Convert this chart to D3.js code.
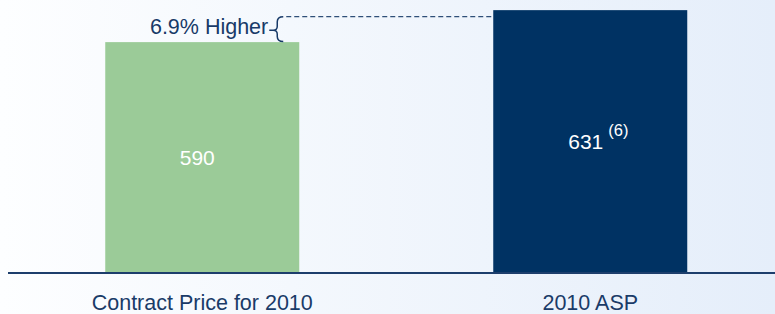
<!DOCTYPE html>
<html>
<head>
<meta charset="utf-8">
<script src="https://cdn.jsdelivr.net/npm/d3@7"></script>
<style>
  html, body { margin: 0; padding: 0; background: #ffffff; }
  svg { display: block; }
  text { font-family: "Liberation Sans", Arial, sans-serif; }
</style>
</head>
<body>
<svg id="chart" width="775" height="314"></svg>
<script>
// ---- data ----
const categories = ["Contract Price for 2010", "2010 ASP"];
const values = [590, 631];
const footnotes = ["", "(6)"];
const annotationText = "6.9% Higher";

// ---- styles ----
const barColors = ["#9bcb98", "#003263"];
const navy = "#183a68";

const W = 775, H = 314;
const svg = d3.select("#chart");

// background gradient
const defs = svg.append("defs");
const grad = defs.append("linearGradient").attr("id", "bg").attr("x1", "0").attr("x2", "1").attr("y1", "0").attr("y2", "0");
grad.append("stop").attr("offset", "0").attr("stop-color", "#fdfeff");
grad.append("stop").attr("offset", "1").attr("stop-color", "#e5eefa");
svg.append("rect").attr("width", W).attr("height", H).attr("fill", "url(#bg)");

const baseY = 273;
const x = d3.scaleBand().domain(categories).range([8.25, 784.25]).paddingInner(0.5).paddingOuter(0.25);
const y = d3.scaleLinear().domain([294, 644]).range([baseY, 0]);

// bars
svg.selectAll("rect.bar").data(values).join("rect")
  .attr("class", "bar")
  .attr("x", (d, i) => x(categories[i]))
  .attr("width", x.bandwidth())
  .attr("y", d => y(d))
  .attr("height", d => baseY - y(d))
  .attr("fill", (d, i) => barColors[i]);

// axis line
const axis = d3.axisBottom(x).tickSize(0).tickPadding(21);
const gAxis = svg.append("g").attr("transform", `translate(0,${baseY})`).call(axis);
gAxis.select(".domain").remove();
gAxis.append("line").attr("x1", 8).attr("x2", W).attr("y1", 0).attr("y2", 0)
  .attr("stroke", "#1d3e6c").attr("stroke-width", 2.2);
gAxis.selectAll(".tick text")
  .attr("font-size", "21.5px").attr("fill", "#1a3b68")
  .attr("font-family", "Liberation Sans, Arial, sans-serif")
  .attr("dy", "0.73em");

// value labels
values.forEach((v, i) => {
  const cx = x(categories[i]) + x.bandwidth() / 2;
  const mid = (y(v) + baseY) / 2;
  const t = svg.append("text")
    .attr("y", mid + 7)
    .attr("font-size", "21px")
    .attr("fill", "#ffffff");
  if (footnotes[i]) {
    t.attr("x", cx - 22).attr("text-anchor", "start");
    t.append("tspan").text(String(v));
    t.append("tspan").attr("dx", 5).attr("dy", -13).attr("font-size", "16.5px").text(footnotes[i]);
  } else {
    t.attr("x", cx - 5).attr("text-anchor", "middle").text(String(v));
  }
});

// annotation: brace + dashed line
const barRight = x(categories[0]) + x.bandwidth();
const yTop = y(values[1]) + 6.5;
const yBot = y(values[0]) - 0.5;
const yMid = (yTop + yBot) / 2 + 1;
const xs = barRight - 22, xr = barRight - 16, xl = barRight - 30;
const brace = d3.path();
brace.moveTo(xr, yTop);
brace.quadraticCurveTo(xs, yTop, xs, yTop + 5);
brace.lineTo(xs, yMid - 4);
brace.quadraticCurveTo(xs, yMid, xs - 4, yMid);
brace.lineTo(xl, yMid);
brace.moveTo(xs - 4, yMid);
brace.quadraticCurveTo(xs, yMid, xs, yMid + 4);
brace.lineTo(xs, yBot - 5);
brace.quadraticCurveTo(xs, yBot, xr, yBot);
svg.append("path").attr("d", brace.toString()).attr("fill", "none")
  .attr("stroke", navy).attr("stroke-width", 1.5);

svg.append("line")
  .attr("x1", barRight - 13).attr("x2", x(categories[1]))
  .attr("y1", yTop).attr("y2", yTop)
  .attr("stroke", "#2f4f78").attr("stroke-width", 1.2)
  .attr("stroke-dasharray", "5,3");

svg.append("text")
  .attr("x", xl - 1).attr("y", yMid + 4)
  .attr("text-anchor", "end")
  .attr("font-size", "21.5px")
  .attr("fill", navy)
  .text(annotationText);
</script>
</body>
</html>
